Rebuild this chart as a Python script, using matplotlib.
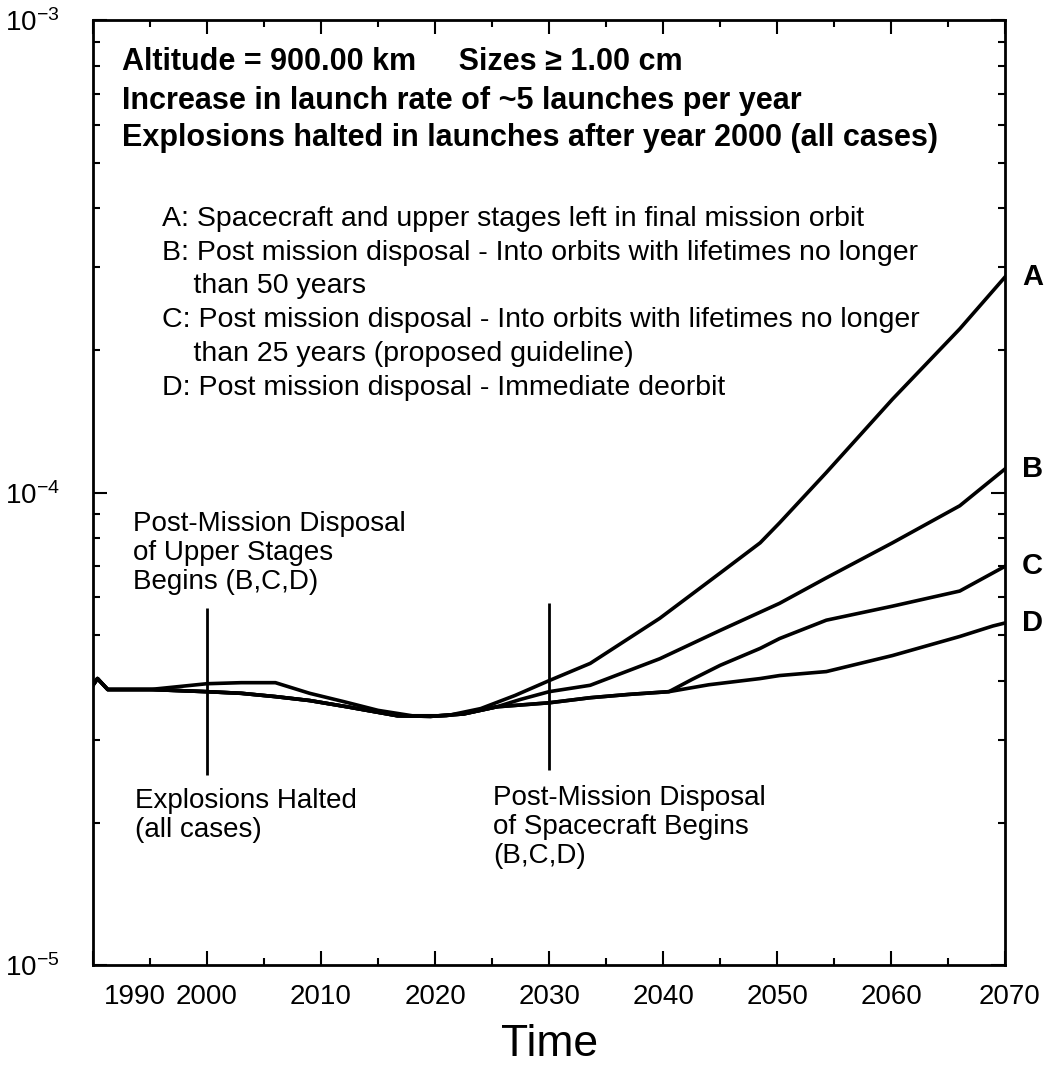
import matplotlib
matplotlib.use("Agg")
import matplotlib.pyplot as plt
import matplotlib.transforms as mtransforms
from matplotlib.ticker import MultipleLocator, LogLocator, NullFormatter

plt.rcParams['font.family'] = ['Liberation Sans', 'DejaVu Sans']
plt.rcParams['mathtext.default'] = 'regular'

# curve A: spacecraft and upper stages left in final orbit
years_a = [1990, 1990.4, 1991.3, 1995, 2000, 2003, 2006, 2009, 2012, 2015, 2018, 2021,
           2024, 2027, 2030, 2033.6, 2039.7, 2045, 2048.5, 2050.2, 2054.3, 2060.1, 2066, 2070]
flux_a = [3.91e-5, 4.04e-5, 3.83e-5, 3.83e-5, 3.94e-5, 3.96e-5, 3.96e-5, 3.76e-5, 3.61e-5,
          3.46e-5, 3.37e-5, 3.37e-5, 3.49e-5, 3.72e-5, 4.00e-5, 4.35e-5, 5.42e-5, 6.76e-5,
          7.83e-5, 8.63e-5, 1.103e-4, 1.577e-4, 2.222e-4, 2.867e-4]

# B, C and D run together until ~2025
years_shared = [1990, 1990.4, 1991.3, 1995, 2000, 2003, 2006, 2009, 2012.3, 2016.7, 2019.6,
                2022.5, 2025.4]
flux_shared = [3.91e-5, 4.04e-5, 3.83e-5, 3.83e-5, 3.79e-5, 3.76e-5, 3.70e-5, 3.63e-5,
               3.52e-5, 3.37e-5, 3.36e-5, 3.40e-5, 3.52e-5]

years_b = [2027.5, 2030, 2033.6, 2039.7, 2045, 2050.2, 2054.3, 2060.1, 2066, 2070]
flux_b = [3.65e-5, 3.79e-5, 3.91e-5, 4.45e-5, 5.11e-5, 5.83e-5, 6.60e-5, 7.83e-5, 9.38e-5, 1.124e-4]

years_c = [2030, 2033.6, 2037, 2040.5, 2042.5, 2045, 2048.5, 2050.2, 2054.3, 2060.1, 2066, 2070]
flux_c = [3.59e-5, 3.68e-5, 3.74e-5, 3.79e-5, 4.02e-5, 4.31e-5, 4.68e-5, 4.91e-5, 5.37e-5,
          5.75e-5, 6.19e-5, 6.99e-5]

years_d = [2030, 2033.6, 2037, 2040.5, 2044, 2048.5, 2050.2, 2054.3, 2060.1, 2066, 2068.9, 2070]
flux_d = [3.59e-5, 3.68e-5, 3.74e-5, 3.79e-5, 3.92e-5, 4.04e-5, 4.10e-5, 4.18e-5, 4.52e-5,
          4.96e-5, 5.22e-5, 5.30e-5]

xticks = [1990, 2000, 2010, 2020, 2030, 2040, 2050, 2060, 2070]

header = ["Altitude = 900.00 km     Sizes \u2265 1.00 cm",
          "Increase in launch rate of ~5 launches per year",
          "Explosions halted in launches after year 2000 (all cases)"]
cases = ["A: Spacecraft and upper stages left in final mission orbit",
         "B: Post mission disposal - Into orbits with lifetimes no longer",
         "    than 50 years",
         "C: Post mission disposal - Into orbits with lifetimes no longer",
         "    than 25 years (proposed guideline)",
         "D: Post mission disposal - Immediate deorbit"]

fig = plt.figure(figsize=(10.44, 10.71), dpi=100)
ax = fig.add_axes([0.089, 0.099, 0.874, 0.882])

lw = 2.6
ax.plot(years_a, flux_a, color='black', lw=lw, solid_joinstyle='round')
for yrs, fl in [(years_b, flux_b), (years_c, flux_c), (years_d, flux_d)]:
    ax.plot(years_shared + yrs, flux_shared + fl, color='black', lw=lw,
            solid_joinstyle='round')

ax.set_yscale('log')
ax.set_xlim(1990, 2070)
ax.set_ylim(1e-5, 1e-3)

# event markers
ax.vlines(2000, 2.52e-5, 5.70e-5, color='black', lw=2)
ax.vlines(2030, 2.59e-5, 5.84e-5, color='black', lw=2)

ax.text(1993.5, 7.45e-5, "Post-Mission Disposal\nof Upper Stages\nBegins (B,C,D)",
        fontsize=20, va='center', ha='left', linespacing=1.15)
ax.text(1993.7, 2.07e-5, "Explosions Halted\n(all cases)",
        fontsize=20, va='center', ha='left', linespacing=1.15)
ax.text(2025.1, 1.96e-5, "Post-Mission Disposal\nof Spacecraft Begins\n(B,C,D)",
        fontsize=20, va='center', ha='left', linespacing=1.15)

hy = [0.956, 0.915, 0.875]
for t, y in zip(header, hy):
    ax.text(0.032, y, t, transform=ax.transAxes, fontsize=22, fontweight='bold',
            va='center', ha='left')
cy = [0.790, 0.754, 0.719, 0.683, 0.647, 0.611]
for t, y in zip(cases, cy):
    ax.text(0.076, y, t, transform=ax.transAxes, fontsize=20.5, va='center', ha='left')

# case labels at the right end of each curve
for lab, val in [('A', flux_a[-1]), ('B', flux_b[-1]), ('C', flux_c[-1]), ('D', flux_d[-1])]:
    ax.annotate(lab, xy=(2070, val), xytext=(12, 0), textcoords='offset points',
                fontsize=21, fontweight='bold', va='center', ha='left',
                annotation_clip=False)

ax.set_xticks(xticks)
ax.xaxis.set_minor_locator(MultipleLocator(5))
ax.yaxis.set_major_locator(LogLocator(base=10, numticks=5))
ax.yaxis.set_minor_locator(LogLocator(base=10, subs=range(2, 10), numticks=20))
ax.yaxis.set_minor_formatter(NullFormatter())
ax.tick_params(which='both', direction='in', top=True, right=True, width=1.5)
ax.tick_params(which='major', length=10)
ax.tick_params(which='minor', length=5)
ax.tick_params(axis='x', labelsize=20, pad=14)
ax.tick_params(axis='y', labelsize=20, pad=24)
for s in ax.spines.values():
    s.set_linewidth(2)

ax.set_xlabel("Time", fontsize=32, labelpad=10)

# first and last year labels sit a bit right of their ticks
labels = ax.get_xticklabels()
for lbl, dx in [(labels[0], 30), (labels[-1], 3)]:
    lbl.set_transform(lbl.get_transform() + mtransforms.ScaledTranslation(dx / 72, 0, fig.dpi_scale_trans))

fig.savefig("out.png", dpi=100)
